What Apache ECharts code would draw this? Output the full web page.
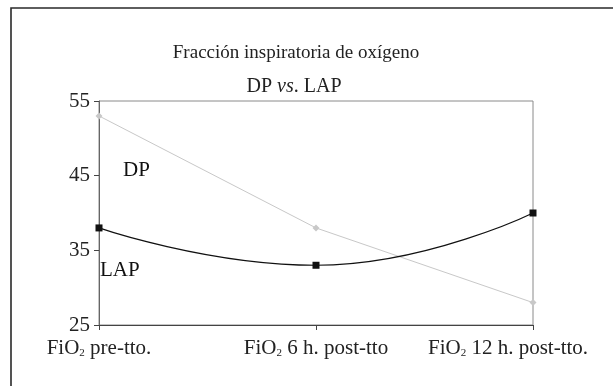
<!DOCTYPE html>
<html>
<head>
<meta charset="utf-8">
<script src="https://cdn.jsdelivr.net/npm/echarts@6/dist/echarts.min.js"></script>
<style>html,body{margin:0;padding:0;background:#fff}#c{width:613px;height:386px}</style>
</head>
<body>
<div id="c"></div>
<script>
var categories = ['FiO₂ pre-tto.', 'FiO₂ 6 h. post-tto', 'FiO₂ 12 h. post-tto.'];
var dpValues = [53, 38, 28];
var lapValues = [38, 33, 40];
var yTicks = [25, 35, 45, 55];

var FONT = 'Liberation Serif';
var catData = categories.map(function (c, i) {
  return i === categories.length - 1 ? { value: c, textStyle: { padding: [0, 50, 0, 0] } } : c;
});
var chart = echarts.init(document.getElementById('c'));
chart.setOption({
  animation: false,
  backgroundColor: '#fff',
  grid: { left: 99, right: 80, top: 101, bottom: 61, show: true, borderColor: '#8a8a8a', borderWidth: 1 },
  graphic: [
    { type: 'rect', shape: { x: 11, y: 8, width: 700, height: 500 }, style: { fill: 'none', stroke: '#2a2a2a', lineWidth: 1.6 }, silent: true },
    { type: 'text', style: { text: 'Fracción inspiratoria de oxígeno', x: 296, y: 53, align: 'center', verticalAlign: 'middle', font: '19px "Liberation Serif"', fill: '#222' } },
    { type: 'text', style: { text: 'DP {i|vs}. LAP', x: 294, y: 87, align: 'center', verticalAlign: 'middle', font: '20px "Liberation Serif"', fill: '#222',
      rich: { i: { fontStyle: 'italic', fontSize: 20, fontFamily: FONT, fill: '#222' } } } },
    { type: 'text', style: { text: 'DP', x: 123, y: 170, align: 'left', verticalAlign: 'middle', font: '21px "Liberation Serif"', fill: '#111' } },
    { type: 'text', style: { text: 'LAP', x: 100, y: 270, align: 'left', verticalAlign: 'middle', font: '21px "Liberation Serif"', fill: '#111' } }
  ],
  xAxis: {
    type: 'category',
    data: catData,
    boundaryGap: false,
    axisLine: { lineStyle: { color: '#444', width: 1 } },
    axisTick: { show: true, interval: 0, length: 5, lineStyle: { color: '#444' } },
    axisLabel: {
      interval: 0, hideOverlap: false,
      margin: 13,
      color: '#222', fontFamily: FONT, fontSize: 21,
      formatter: function (v) { return v.replace('FiO₂', 'FiO{s|2}'); },
      rich: { s: { fontSize: 11, fontFamily: FONT, color: '#222', verticalAlign: 'bottom', padding: [8, 0, 0, 0] } }
    },
    splitLine: { show: false }
  },
  yAxis: {
    type: 'value',
    min: yTicks[0], max: yTicks[yTicks.length - 1], interval: 10,
    axisLine: { show: true, lineStyle: { color: '#666', width: 1 } },
    axisTick: { show: true, length: 5, lineStyle: { color: '#444' } },
    axisLabel: { margin: 9, color: '#222', fontFamily: FONT, fontSize: 21 },
    splitLine: { show: false }
  },
  series: [
    {
      name: 'DP', type: 'line', data: dpValues,
      symbol: 'diamond', symbolSize: 7,
      itemStyle: { color: '#c8c8c8' },
      lineStyle: { color: '#c8c8c8', width: 1 },
      z: 2
    },
    {
      name: 'LAP', type: 'line', data: lapValues, smooth: 0.5,
      symbol: 'rect', symbolSize: 7,
      itemStyle: { color: '#111' },
      lineStyle: { color: '#111', width: 1.2 },
      z: 3
    }
  ]
});
</script>
</body>
</html>
